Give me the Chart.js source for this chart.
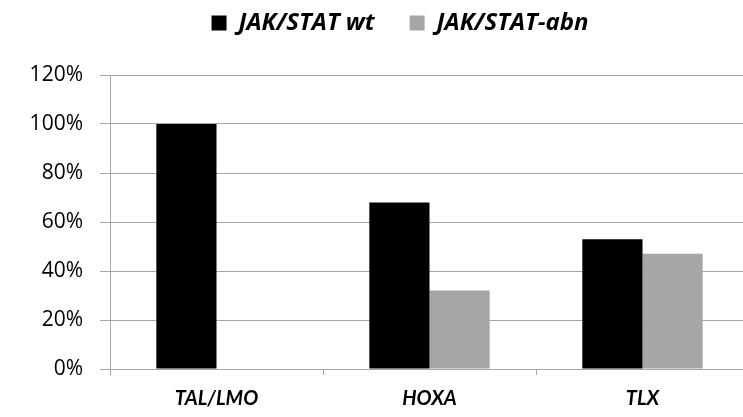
<!DOCTYPE html>
<html>
<head>
<meta charset="utf-8">
<script src="https://cdn.jsdelivr.net/npm/chart.js@4/dist/chart.umd.min.js"></script>
<style>
html,body{margin:0;padding:0;background:#fff;overflow:hidden;}
#wrap{width:743px;height:417px;overflow:hidden;position:relative;}
canvas{display:block;}
</style>
</head>
<body>
<div id="wrap"><canvas id="c" width="800" height="417"></canvas></div>
<script>
const categories = ["TAL/LMO", "HOXA", "TLX"];
const seriesNames = ["JAK/STAT wt", "JAK/STAT-abn"];
const wtValues = [100, 68, 53];
const abnValues = [0, 32, 47];
const yTicks = [0, 20, 40, 60, 80, 100, 120];

const FONT = "Lato, sans-serif";
const LEGEND_FONT = "'Open Sans', Lato, sans-serif";
const Y_FONT = "'Open Sans', Lato, sans-serif";
const gridColor = "#a6a6a6";

const legendSpacer = {
  id: "legendSpacer",
  beforeInit(chart) {
    const origFit = chart.legend.fit;
    chart.legend.fit = function () {
      origFit.call(this);
      this.height += 30;
    };
  },
  afterLayout(chart) {
    chart.legend.left += 51;
  }
};

new Chart(document.getElementById("c"), {
  type: "bar",
  data: {
    labels: categories,
    datasets: [
      { label: seriesNames[0], data: wtValues, backgroundColor: "#000000", borderWidth: 0, barPercentage: 1.0, categoryPercentage: 0.565 },
      { label: seriesNames[1], data: abnValues, backgroundColor: "#a6a6a6", borderWidth: 0, barPercentage: 1.0, categoryPercentage: 0.565 }
    ]
  },
  plugins: [legendSpacer],
  options: {
    responsive: false,
    animation: false,
    devicePixelRatio: 1,
    layout: { padding: { left: 0, right: 51, top: -24, bottom: 0 } },
    plugins: {
      legend: {
        position: "top",
        labels: {
          boxWidth: 15, boxHeight: 15, padding: 35,
          color: "#000",
          font: { family: LEGEND_FONT, size: 24, weight: "bold", style: "italic" }
        }
      },
      tooltip: { enabled: false }
    },
    scales: {
      x: {
        offset: true,
        grid: { display: true, offset: true, drawOnChartArea: false, drawTicks: true, tickLength: 6, color: gridColor, lineWidth: 1 },
        border: { display: true, color: gridColor, width: 1 },
        ticks: { color: "#000", padding: 12, font: { family: FONT, size: 20, weight: "bold", style: "italic" } },
        afterFit: (s) => { s.height = 48; }
      },
      y: {
        min: 0, max: 120,
        afterBuildTicks: (s) => { s.ticks = yTicks.map(v => ({ value: v })); },
        grid: { color: gridColor, lineWidth: 1, drawTicks: true, tickLength: 10 },
        border: { display: true, color: gridColor, width: 1 },
        ticks: { color: "#000", padding: 17, font: { family: Y_FONT, size: 21 }, callback: (v) => v + "%" },
        afterFit: (s) => { s.width = 110; }
      }
    }
  }
});
</script>
</body>
</html>
